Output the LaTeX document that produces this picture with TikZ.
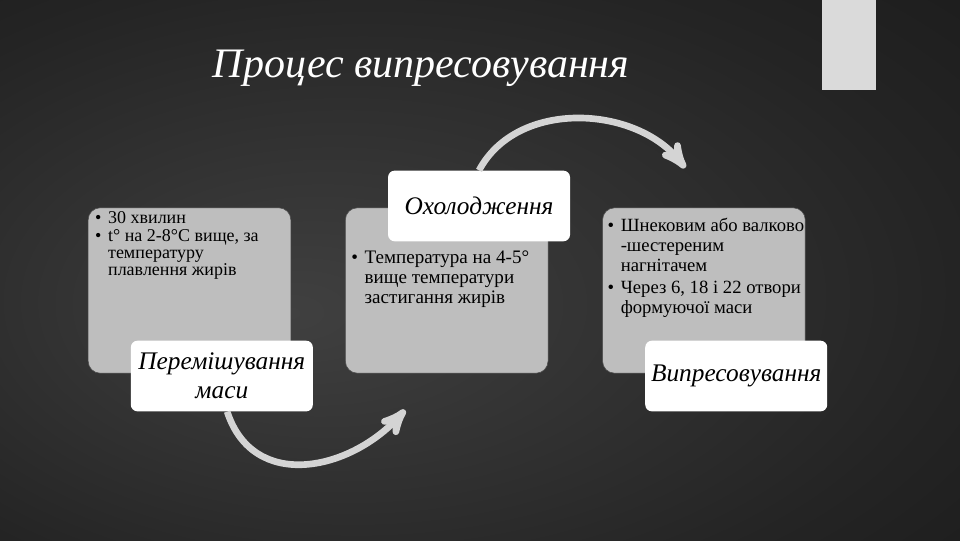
\documentclass[tikz,border=0pt]{standalone}
\usepackage{fontspec}
\setmainfont{Liberation Serif}
\usetikzlibrary{
        arrows,
        positioning
    }
\definecolor{bgdark}{RGB}{14,14,14}
\definecolor{bgmid}{RGB}{36,36,36}
\definecolor{bglight}{RGB}{64,64,64}
\definecolor{boxgray}{RGB}{190,190,190}
\definecolor{arcgray}{RGB}{212,212,212}
\definecolor{tabgray}{RGB}{218,218,218}
\pgfdeclareradialshading{slidebg}{\pgfpoint{-10bp}{-4bp}}{color(0bp)=(bglight); color(30bp)=(bgmid); color(62bp)=(bgdark)}
\tikzset{>=stealth',shorten >=1pt,x=0.75pt,y=0.75pt}
\tikzset{
    infobox/.style={fill=boxgray,draw=black!70,rounded corners=9pt,
        minimum width=152pt,minimum height=124pt,inner sep=0pt},
    stagebox/.style={fill=white,rounded corners=5pt,minimum width=136.5pt,
        minimum height=53pt,inner sep=0pt,align=center,
        font=\fontsize{19}{22}\selectfont\itshape},
    bulletlist/.style={anchor=north west,align=left,inner sep=0pt},
    curvearrow/.style={->,draw=arcgray,line width=5pt}
}

\begin{document}
\begin{tikzpicture}
    % slide background
    \shade[shading=slidebg] (0,0) rectangle (960,540);
    \fill[tabgray] (822,450) rectangle (876,540);
    \node[font=\fontsize{31.5}{38}\selectfont\itshape,text=white] (title) at (421,472) {Процес випресовування};

    % the three grey panels
    \node[infobox] (box1) at (189.5,249.5) {};
    \node[infobox,right=40.5pt of box1] (box2) {};
    \node[infobox,right=40.5pt of box2] (box3) {};

    \node[bulletlist,font=\fontsize{13.5}{13}\selectfont] (list1) at ([shift={(7,-4)}]box1.north west)
        {\begin{tabular}{@{}l@{\hspace{5pt}}l@{}}
        • & 30 хвилин\\
        • & t° на 2-8°C вище, за\\
          & температуру\\
          & плавлення жирів
        \end{tabular}};
    \node[bulletlist,font=\fontsize{14.3}{15}\selectfont] (list2) at ([shift={(6,-42)}]box2.north west)
        {\begin{tabular}{@{}l@{\hspace{5pt}}l@{}}
        • & Температура на 4-5°\\
          & вище температури\\
          & застигання жирів
        \end{tabular}};
    \node[bulletlist,font=\fontsize{14}{14.8}\selectfont] (list3) at ([shift={(5,-10)}]box3.north west)
        {\begin{tabular}{@{}l@{\hspace{5pt}}l@{}}
        • & Шнековим або валково\\
          & -шестереним\\
          & нагнітачем\\[2pt]
        • & Через 6, 18 і 22 отвори\\
          & формуючої маси
        \end{tabular}};

    % white stage labels
    \node[stagebox,anchor=north east] (mix) at ([shift={(22,33)}]box1.south east) {Перемішування\\маси};
    \node[stagebox,anchor=south east] (cool) at ([shift={(22,-34)}]box2.north east) {Охолодження};
    \node[stagebox,anchor=north east] (press) at ([shift={(22,33)}]box3.south east) {Випресовування};

    % arrow ends
    \coordinate (mixend) at (406,131);
    \coordinate (pressend) at (686,371);

    \draw[curvearrow] ([xshift=4]mix.south) to[out=-72,in=-132,looseness=1.2] (mixend);
    \draw[curvearrow] (cool.north) to[out=62,in=128] (pressend);
\end{tikzpicture}
\end{document}
